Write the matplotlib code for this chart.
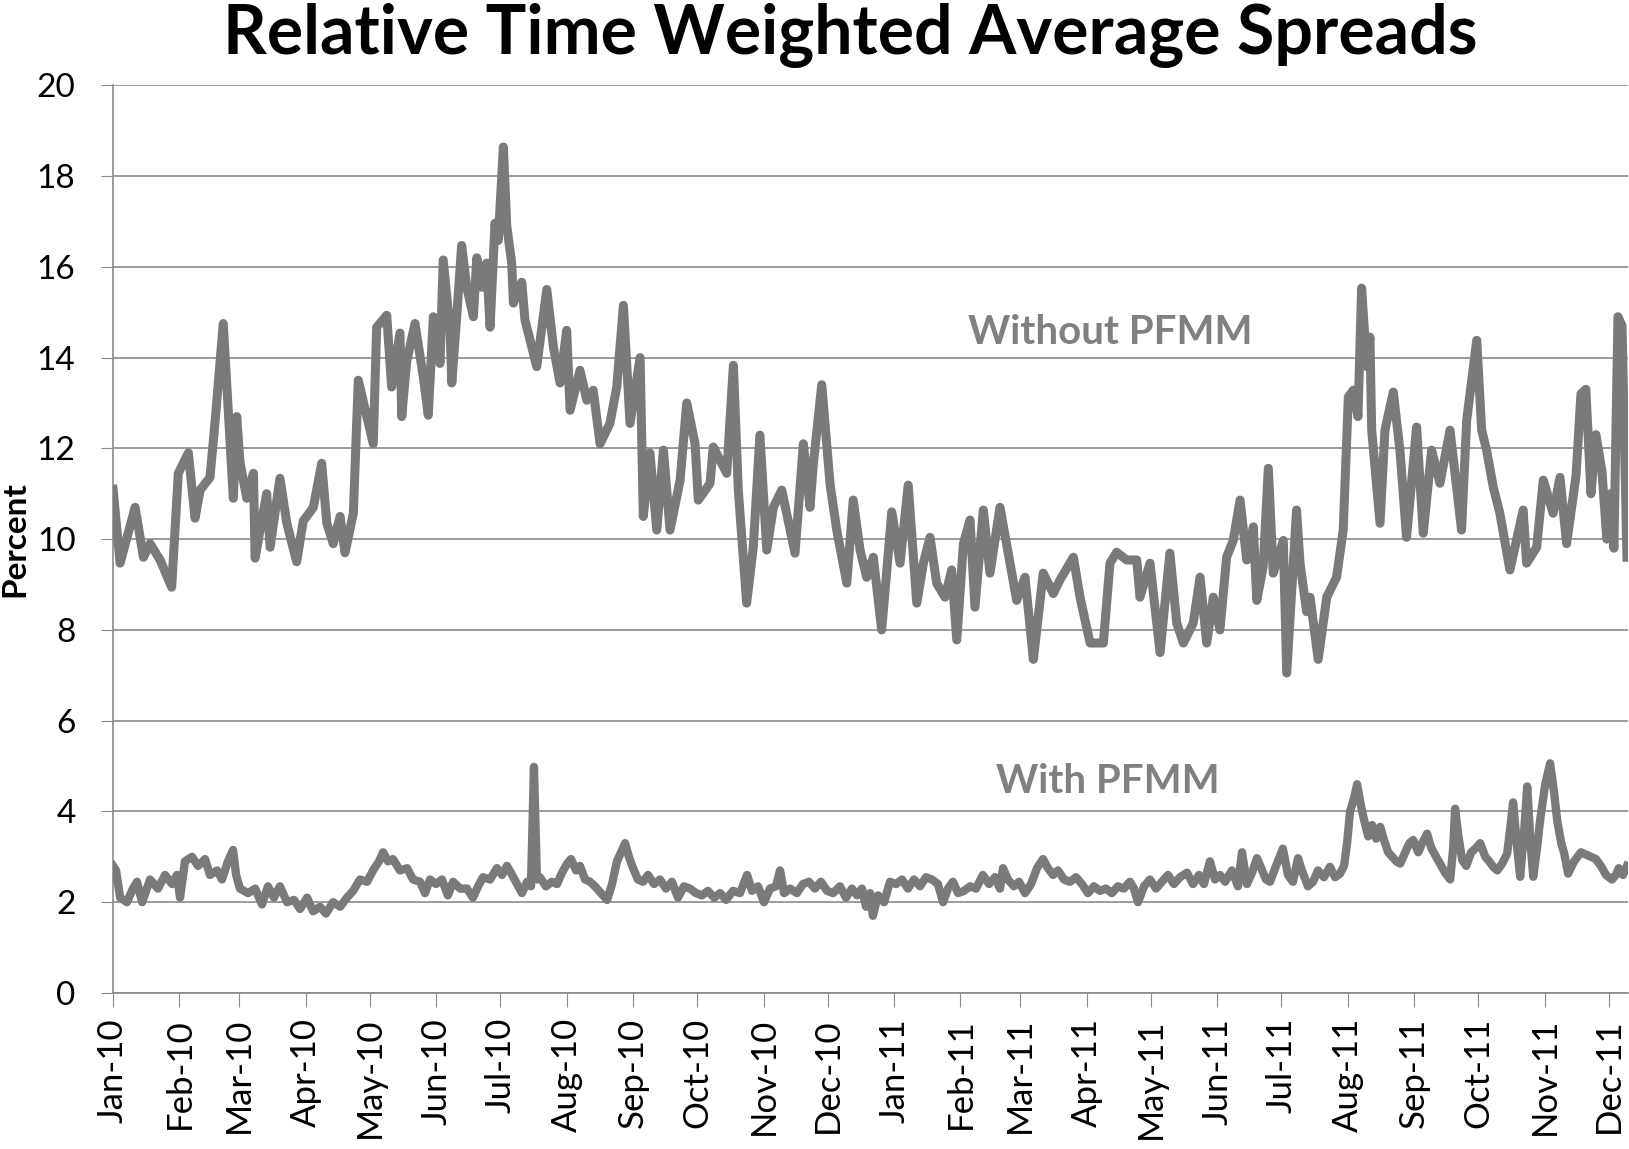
import matplotlib
matplotlib.use('Agg')
import matplotlib.pyplot as plt
import matplotlib.dates as mdates
import pandas as pd

# days after 2010-01-01 and spread (%) for each series
without_days = [0, 3.3, 10.3, 14.2, 17.3, 22.0, 27.4, 30.5, 35.2, 38.3, 40.7, 45.3, 47.7, 51.5, 53.9,
                56.2, 57.8, 59.3, 62.5, 65.6, 66.4, 68.7, 71.8, 73.4, 78.0, 81.2, 85.8, 88.9, 93.6,
                97.5, 99.9, 102.9, 106.1, 108.4, 112.3, 114.6, 118.6, 121.6, 123.2, 127.9, 130.2,
                134.1, 134.9, 137.2, 141.1, 145.0, 147.3, 149.7, 152.8, 154.3, 157.5, 158.3, 160.6,
                162.9, 165.3, 168.4, 170.0, 172.3, 174.6, 176.2, 178.5, 180.0, 182.4, 184.0, 186.3,
                187.1, 191.0, 192.5, 194.9, 198.0, 202.7, 205.8, 208.9, 212.0, 213.6, 218.2, 221.4,
                224.4, 227.6, 232.2, 235.4, 238.5, 241.6, 246.3, 247.8, 250.9, 254.1, 257.2, 260.3,
                265.0, 268.1, 272.0, 273.5, 279.0, 280.5, 286.8, 289.9, 292.2, 296.1, 299.2, 302.3,
                305.5, 308.6, 312.5, 318.7, 322.6, 325.7, 327.3, 331.2, 335.1, 338.2, 342.9, 345.9,
                349.1, 352.2, 355.3, 359.2, 362.3, 363.9, 367.8, 371.6, 375.6, 378.7, 381.8, 384.9,
                388.8, 391.9, 394.3, 397.4, 400.5, 402.8, 406.7, 409.8, 414.5, 419.2, 422.3, 426.2,
                430.1, 434.7, 439.4, 442.5, 448.8, 451.9, 456.6, 462.8, 465.9, 469.0, 473.7, 478.4,
                479.9, 484.6, 489.3, 493.9, 497.1, 500.2, 504.8, 508.0, 511.1, 514.2, 517.3, 520.4,
                523.5, 526.7, 529.8, 532.9, 534.5, 537.5, 539.9, 542.2, 546.9, 548.5, 553.1, 554.7,
                557.8, 559.4, 563.2, 567.2, 571.8, 574.9, 577.3, 579.6, 581.8, 583.5, 585.9, 587.4,
                588.2, 592.1, 594.4, 598.3, 601.4, 604.5, 609.2, 612.3, 616.2, 620.1, 624.8, 630.2,
                632.6, 637.3, 639.6, 641.9, 645.0, 648.1, 652.8, 659.0, 660.6, 665.3, 668.4, 673.0,
                676.2, 679.3, 683.7, 686.0, 688.3, 690.7, 693.0, 695.8, 698.1, 700.0, 701.4, 703.3,
                705.2, 707.5]
without_vals = [11.1, 9.47, 10.7, 9.6, 9.9, 9.54, 8.94, 11.45, 11.9, 10.46, 11.08, 11.36, 12.6, 14.75, 12.8,
                10.9, 12.7, 11.7, 10.9, 11.45, 9.58, 10.2, 11.0, 9.82, 11.34, 10.35, 9.5, 10.4, 10.7,
                11.67, 10.35, 9.9, 10.5, 9.7, 10.57, 13.5, 12.7, 12.1, 14.67, 14.93, 13.35,
                14.54, 12.7, 13.9, 14.75, 13.57, 12.73, 14.9, 13.87, 16.15, 14.6, 13.44, 14.9,
                16.47, 15.55, 14.9, 16.2, 15.55, 16.08, 14.67, 16.96, 16.58, 18.64, 16.9, 16.08,
                15.2, 15.66, 14.83, 14.38, 13.8, 15.5, 14.23, 13.44, 14.6, 12.84, 13.72, 13.06,
                13.28, 12.1, 12.55, 13.35, 15.15, 12.55, 14.0, 10.5, 11.9, 10.2, 11.96, 10.2,
                11.3, 13.0, 12.1, 10.86, 11.23, 12.03, 11.45, 13.83, 11.08, 8.59, 9.82, 12.29,
                9.76, 10.7, 11.08, 9.69, 12.1, 10.7, 11.67, 13.4, 11.2, 10.2, 9.03, 10.86,
                9.76, 9.16, 9.6, 8.0, 9.69, 10.6, 9.47, 11.19, 8.59, 9.47, 10.04, 9.03,
                8.72, 9.32, 7.78, 9.9, 10.42, 8.5, 10.64, 9.25, 10.7, 9.47, 8.65, 9.16,
                7.35, 9.25, 8.8, 9.1, 9.6, 8.72, 7.71, 7.71, 9.47, 9.71, 9.54, 9.54,
                8.72, 9.47, 7.5, 9.69, 8.15, 7.71, 8.15, 9.16, 7.71, 8.72, 8.0, 9.6,
                9.97, 10.86, 9.54, 10.27, 8.65, 9.39, 11.56, 9.25, 9.97, 7.05, 10.64, 9.47,
                8.4, 8.72, 7.35, 8.72, 9.16, 10.2, 13.13, 13.28, 12.7, 15.53, 13.8, 14.45,
                12.4, 10.35, 12.4, 13.24, 11.96, 10.04, 12.47, 10.13, 11.96, 11.23, 12.4, 10.2,
                12.62, 14.38, 12.4, 11.96, 11.15, 10.57, 9.32, 10.64, 9.47, 9.82, 11.3, 10.57,
                11.36, 9.9, 11.4, 13.2, 13.3, 11.0, 12.3, 11.5, 10.0, 11.0, 9.8, 14.9,
                14.7, 9.6]

with_days = [0, 1.4, 3.3, 6.5, 9.3, 11.2, 13.6, 17.3, 21.0, 24.3, 27.6, 29.9, 31.3, 33.6, 36.9,
             39.7, 43.0, 45.3, 48.6, 50.9, 53.7, 56.1, 57.5, 59.3, 63.1, 66.4, 69.6, 72.4, 75.2,
             78.0, 81.3, 84.6, 87.4, 90.7, 93.5, 96.7, 99.5, 102.8, 106.1, 109.3, 112.2, 115.4,
             118.7, 121.5, 124.3, 126.2, 128.5, 130.8, 134.1, 137.4, 140.2, 143.5, 145.8, 148.1,
             150.9, 153.7, 156.5, 158.9, 162.2, 165.4, 168.2, 170.6, 172.9, 176.2, 179.4, 181.8,
             184.1, 186.5, 188.8, 191.1, 193.5, 195.3, 196.7, 198.1, 199.5, 202.3, 205.1, 207.5,
             209.8, 212.2, 214.0, 216.4, 218.2, 220.6, 222.9, 225.2, 228.0, 230.9, 233.2, 235.5,
             237.4, 239.3, 241.1, 243.0, 245.3, 247.7, 250.0, 252.8, 255.6, 258.4, 261.2, 264.0,
             266.8, 269.6, 272.4, 275.2, 278.0, 280.9, 283.7, 286.5, 289.7, 293.0, 296.3, 298.6,
             301.4, 304.2, 307.0, 309.8, 311.7, 313.6, 316.4, 319.6, 322.4, 325.2, 328.0, 330.8,
             333.7, 336.5, 339.7, 342.5, 345.3, 347.7, 350.0, 351.9, 353.8, 355.1, 357.5, 360.3,
             363.1, 365.9, 368.7, 371.5, 374.3, 377.1, 379.9, 382.7, 385.5, 387.9, 390.2, 392.5,
             394.9, 397.7, 400.5, 403.3, 406.5, 409.4, 412.2, 414.5, 415.9, 418.2, 421.0, 423.4,
             426.2, 429.0, 431.8, 434.6, 436.9, 439.3, 441.6, 444.4, 447.2, 450.0, 452.8, 455.6,
             458.4, 461.2, 464.0, 466.8, 469.6, 472.4, 475.2, 477.1, 479.0, 481.8, 484.6, 487.4,
             490.2, 493.0, 495.8, 498.6, 501.9, 504.7, 507.5, 509.8, 512.6, 515.0, 517.3, 519.7,
             522.9, 525.7, 527.6, 529.9, 532.3, 534.6, 537.0, 538.8, 540.7, 543.5, 546.7, 549.1,
             551.4, 553.8, 555.6, 558.4, 560.8, 563.1, 565.9, 568.7, 571.1, 573.4, 575.3, 576.7,
             578.1, 580.0, 581.4, 583.3, 584.7, 586.6, 588.4, 590.3, 592.2, 594.1, 595.9, 597.8,
             599.7, 601.5, 603.9, 605.8, 607.6, 610.0, 611.8, 614.1, 616.0, 618.3, 620.7, 622.5,
             624.9, 626.3, 627.2, 628.6, 630.5, 632.4, 634.7, 637.1, 638.9, 641.3, 643.1, 645.0,
             646.9, 649.2, 651.5, 652.9, 654.3, 656.2, 657.6, 659.5, 660.9, 662.3, 663.7, 665.5,
             666.9, 669.3, 671.6, 673.5, 674.9, 676.8, 678.2, 680.0, 682.8, 686.0, 688.3, 690.7,
             693.0, 695.3, 697.7, 700.5, 702.3, 703.7, 705.6, 707.5]
with_vals = [2.8, 2.7, 2.1, 2.0, 2.3, 2.45, 2.0, 2.5, 2.3, 2.6, 2.4, 2.6, 2.1, 2.9, 3.0,
             2.8, 2.95, 2.6, 2.7, 2.5, 2.9, 3.15, 2.6, 2.3, 2.2, 2.3, 1.95, 2.35, 2.1,
             2.35, 2.0, 2.05, 1.85, 2.1, 1.8, 1.9, 1.75, 2.0, 1.9, 2.1, 2.25, 2.5,
             2.45, 2.7, 2.9, 3.1, 2.9, 2.95, 2.7, 2.75, 2.5, 2.45, 2.2, 2.5,
             2.4, 2.5, 2.15, 2.45, 2.3, 2.3, 2.1, 2.35, 2.55, 2.5, 2.75, 2.6,
             2.8, 2.6, 2.4, 2.2, 2.45, 2.35, 4.98, 2.5, 2.55, 2.35, 2.45, 2.4,
             2.65, 2.85, 2.95, 2.7, 2.8, 2.5, 2.45, 2.35, 2.2, 2.05, 2.4, 2.9,
             3.1, 3.3, 3.0, 2.75, 2.5, 2.45, 2.6, 2.4, 2.5, 2.3, 2.45, 2.1,
             2.35, 2.3, 2.2, 2.15, 2.25, 2.1, 2.2, 2.05, 2.25, 2.2, 2.6, 2.25,
             2.35, 2.0, 2.3, 2.35, 2.7, 2.2, 2.3, 2.2, 2.4, 2.45, 2.3, 2.45,
             2.25, 2.2, 2.35, 2.1, 2.3, 2.15, 2.3, 1.9, 2.2, 1.7, 2.15, 2.0,
             2.45, 2.4, 2.5, 2.3, 2.5, 2.35, 2.55, 2.5, 2.4, 2.0, 2.3, 2.45,
             2.2, 2.25, 2.35, 2.3, 2.6, 2.4, 2.55, 2.3, 2.75, 2.5, 2.35, 2.45,
             2.2, 2.4, 2.75, 2.95, 2.75, 2.6, 2.7, 2.5, 2.45, 2.55, 2.4, 2.2,
             2.35, 2.25, 2.3, 2.2, 2.35, 2.3, 2.45, 2.3, 2.0, 2.35, 2.5, 2.3,
             2.45, 2.6, 2.4, 2.55, 2.65, 2.4, 2.6, 2.4, 2.9, 2.5, 2.6, 2.45,
             2.7, 2.35, 3.1, 2.4, 2.65, 2.97, 2.7, 2.5, 2.45, 2.8, 3.18, 2.6,
             2.45, 2.97, 2.7, 2.35, 2.45, 2.7, 2.55, 2.78, 2.55, 2.63, 2.8, 3.3,
             4.0, 4.3, 4.6, 4.1, 3.8, 3.45, 3.7, 3.4, 3.66, 3.35, 3.1, 3.0,
             2.9, 2.85, 3.1, 3.3, 3.37, 3.1, 3.3, 3.51, 3.2, 3.0, 2.8, 2.65,
             2.5, 3.2, 4.06, 3.5, 2.93, 2.8, 3.1, 3.2, 3.3, 3.0, 2.9, 2.78,
             2.7, 2.85, 3.07, 3.6, 4.2, 3.2, 2.56, 3.6, 4.55, 3.4, 2.56, 3.2,
             3.8, 4.6, 5.06, 4.4, 3.8, 3.3, 3.07, 2.63, 2.9, 3.1, 3.05, 3.0,
             2.95, 2.8, 2.6, 2.5, 2.6, 2.75, 2.6, 2.8]

start = pd.Timestamp('2010-01-01')
end = pd.Timestamp('2011-12-10')


def to_dates(days):
    return start + pd.to_timedelta(days, unit='D')


plt.rcParams['font.family'] = ['Lato', 'DejaVu Sans']

fig = plt.figure(figsize=(16.29, 11.49), dpi=100)
ax = fig.add_axes([0.0694, 0.1358, 0.930, 0.790])

line_color = '#7a7a7a'
ax.plot(to_dates(without_days), without_vals, color=line_color, lw=6.5,
        solid_joinstyle='round', zorder=3)
ax.plot(to_dates(with_days), with_vals, color=line_color, lw=6,
        solid_joinstyle='round', zorder=3)

ax.set_ylim(0, 20)
ax.set_yticks(range(0, 21, 2))
ax.set_xlim(start, end)
ax.xaxis.set_major_locator(mdates.MonthLocator())
ax.xaxis.set_major_formatter(mdates.DateFormatter('%b-%y'))

ax.grid(axis='y', color='#8a8a8a', lw=1.2, zorder=0)
for side in ['top', 'right']:
    ax.spines[side].set_visible(False)
for side in ['left', 'bottom']:
    ax.spines[side].set_color('#8a8a8a')
    ax.spines[side].set_linewidth(1.2)

ax.tick_params(axis='y', labelsize=24, length=9, pad=18, color='#8a8a8a')
ax.tick_params(axis='x', labelsize=25, length=10, pad=8, color='#8a8a8a', labelrotation=90)

ax.set_ylabel('Percent', fontsize=24, fontweight='bold', labelpad=2)
ax.yaxis.set_label_coords(-0.055, 0.5)

fig.suptitle('Relative Time Weighted Average Spreads', fontsize=49, fontweight='bold',
             x=0.522, y=0.997)

ax.text(to_dates(466), 14.55, 'Without PFMM', color='#808080', fontsize=29,
        fontweight='bold', ha='center', va='center')
ax.text(to_dates(465), 4.65, 'With PFMM', color='#808080', fontsize=29,
        fontweight='bold', ha='center', va='center')

fig.savefig('out.png', dpi=100)
